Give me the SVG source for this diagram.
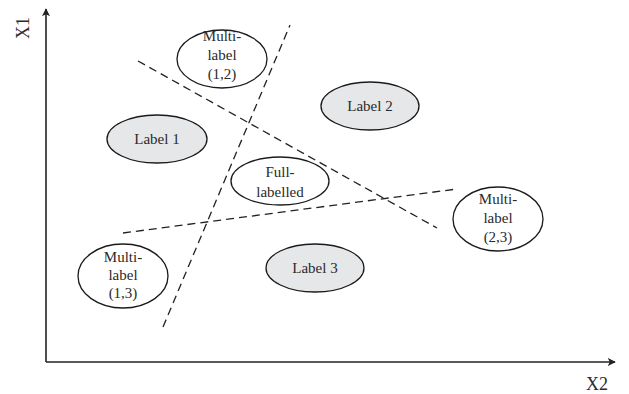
<svg xmlns="http://www.w3.org/2000/svg" width="629" height="394" viewBox="0 0 629 394">
  <style>
    .axis { stroke: #222; stroke-width: 1.6; fill: none; }
    .split { stroke: #222; stroke-width: 1.3; stroke-dasharray: 8 5; fill: none; }
    .node { stroke: #1a1a1a; stroke-width: 1.3; fill: #ffffff; }
    .node.grey { fill: #e6e7e8; }
    text { font-family: "Liberation Serif", "Times New Roman", serif; font-size: 15px; fill: #2a2a2a; text-anchor: middle; }
    .ax { font-size: 18px; }
  </style>
  <defs>
    <marker id="arrow" viewBox="0 0 10 10" refX="9" refY="5" markerWidth="8" markerHeight="8" markerUnits="userSpaceOnUse" orient="auto">
      <path d="M0,0 L10,5 L0,10 L2.5,5 Z" fill="#222"/>
    </marker>
  </defs>

  <!-- axes -->
  <g id="axes">
    <line class="axis" x1="46" y1="362" x2="46" y2="9" marker-end="url(#arrow)"/>
    <line class="axis" x1="46" y1="362" x2="615" y2="362" marker-end="url(#arrow)"/>
    <text class="ax" transform="translate(29,28) rotate(-90)">X1</text>
    <text class="ax" x="597" y="390">X2</text>
  </g>

  <!-- dashed decision boundaries -->
  <g id="connectors">
    <line class="split" x1="163" y1="327" x2="290" y2="25"/>
    <line class="split" x1="138" y1="61" x2="437" y2="228"/>
    <line class="split" x1="123" y1="233" x2="457" y2="189"/>
  </g>

  <g id="multi12">
    <ellipse class="node" cx="222" cy="59" rx="45" ry="29"/>
    <text x="222" y="41">Multi-</text>
    <text x="222" y="60">label</text>
    <text x="222" y="79">(1,2)</text>
  </g>

  <g id="label1">
    <ellipse class="node grey" cx="157" cy="139" rx="50" ry="24"/>
    <text x="157" y="144">Label 1</text>
  </g>

  <g id="label2">
    <ellipse class="node grey" cx="370" cy="106" rx="49" ry="24"/>
    <text x="370" y="111">Label 2</text>
  </g>

  <g id="full">
    <ellipse class="node" cx="280" cy="181" rx="49" ry="24"/>
    <text x="280" y="177">Full-</text>
    <text x="280" y="197">labelled</text>
  </g>

  <g id="multi23">
    <ellipse class="node" cx="498" cy="219" rx="45" ry="32"/>
    <text x="498" y="204">Multi-</text>
    <text x="498" y="223">label</text>
    <text x="498" y="242">(2,3)</text>
  </g>

  <g id="multi13">
    <ellipse class="node" cx="123" cy="276" rx="45" ry="32"/>
    <text x="123" y="262">Multi-</text>
    <text x="123" y="280">label</text>
    <text x="123" y="298">(1,3)</text>
  </g>

  <g id="label3">
    <ellipse class="node grey" cx="315" cy="268" rx="49" ry="24"/>
    <text x="315" y="273">Label 3</text>
  </g>
</svg>
